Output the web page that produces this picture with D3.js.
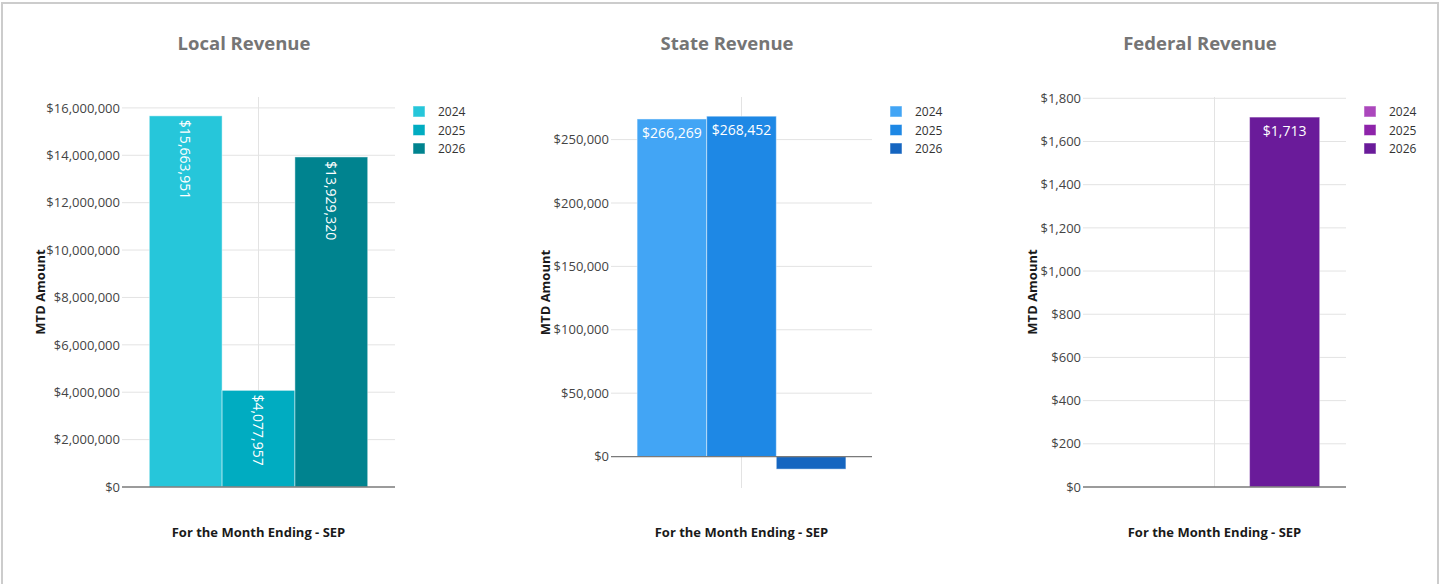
<!DOCTYPE html>
<html>
<head>
<meta charset="utf-8">
<script src="https://cdn.jsdelivr.net/npm/d3@7"></script>
<style>
  html, body { margin: 0; padding: 0; background: #fff; }
  svg { display: block; font-family: "Open Sans", sans-serif; }
</style>
</head>
<body>
<svg id="chart" width="1445" height="584"></svg>
<script>
// ---------------- DATA ----------------
const years = ["2024", "2025", "2026"];
const category = ["SEP"];
const xAxisTitle = "For the Month Ending - SEP";
const yAxisTitle = "MTD Amount";

const panelTitles = ["Local Revenue", "State Revenue", "Federal Revenue"];

const localValues   = [15663951, 4077957, 13929320];
const stateValues   = [266269, 268452, -9900];
const federalValues = [0, 0, 1713];

const localTicks   = [0, 2000000, 4000000, 6000000, 8000000, 10000000, 12000000, 14000000, 16000000];
const stateTicks   = [0, 50000, 100000, 150000, 200000, 250000];
const federalTicks = [0, 200, 400, 600, 800, 1000, 1200, 1400, 1600, 1800];

const localDomain   = [0, 16460000];
const stateDomain   = [-24800, 283600];
const federalDomain = [0, 1806];

const localColors   = ["#26C6DA", "#00ACC1", "#00838F"];
const stateColors   = ["#42A5F5", "#1E88E5", "#1565C0"];
const federalColors = ["#AB47BC", "#8E24AA", "#6A1B9A"];

// ---------------- LAYOUT ----------------
const panels = [
  { title: panelTitles[0], values: localValues, ticks: localTicks, domain: localDomain, colors: localColors,
    titleX: 244, plotL: 122, plotR: 395, plotT: 97, plotB: 487, yTitleX: 40 },
  { title: panelTitles[1], values: stateValues, ticks: stateTicks, domain: stateDomain, colors: stateColors,
    titleX: 727, plotL: 611, plotR: 872, plotT: 97, plotB: 488, yTitleX: 545 },
  { title: panelTitles[2], values: federalValues, ticks: federalTicks, domain: federalDomain, colors: federalColors,
    titleX: 1200, plotL: 1083, plotR: 1346, plotT: 97, plotB: 487, yTitleX: 1032 }
];

const svg = d3.select("#chart");
const fmt = v => (v < 0 ? "-$" : "$") + d3.format(",")(Math.abs(v));

// outer border
svg.append("rect")
  .attr("x", 2).attr("y", 3).attr("width", 1436).attr("height", 700)
  .attr("fill", "none").attr("stroke", "#cccccc").attr("stroke-width", 2);

panels.forEach(p => {
  const g = svg.append("g");

  const y = d3.scaleLinear().domain(p.domain).range([p.plotB, p.plotT]);
  const x0 = d3.scaleBand().domain(category).range([p.plotL, p.plotR])
    .paddingInner(0).paddingOuter(0.125);
  const x1 = d3.scaleBand().domain(years).range([0, x0.bandwidth()]).padding(0);

  // title
  g.append("text")
    .attr("x", p.titleX).attr("y", 50)
    .attr("text-anchor", "middle")
    .attr("font-size", 18.5).attr("font-weight", 700)
    .attr("fill", "#757575")
    .text(p.title);

  // horizontal gridlines
  g.append("g").selectAll("line")
    .data(p.ticks.filter(t => t !== 0))
    .join("line")
    .attr("x1", p.plotL).attr("x2", p.plotR)
    .attr("y1", d => y(d)).attr("y2", d => y(d))
    .attr("stroke", "#e3e3e3").attr("stroke-width", 1);

  // vertical gridline at category centre
  g.append("g").selectAll("line")
    .data(category)
    .join("line")
    .attr("x1", d => x0(d) + x0.bandwidth() / 2)
    .attr("x2", d => x0(d) + x0.bandwidth() / 2)
    .attr("y1", p.plotT).attr("y2", p.plotB)
    .attr("stroke", "#e3e3e3").attr("stroke-width", 1);

  // y axis labels
  const yAxis = d3.axisLeft(y).tickValues(p.ticks).tickFormat(fmt).tickSize(0).tickPadding(2);
  const ya = g.append("g").attr("transform", `translate(${p.plotL},0)`).call(yAxis);
  ya.select(".domain").remove();
  ya.selectAll("text")
    .attr("font-family", "'Open Sans', sans-serif")
    .attr("font-size", 13).attr("fill", "#444");

  // bars
  const bars = g.append("g").selectAll("g")
    .data(category)
    .join("g")
    .attr("transform", d => `translate(${x0(d)},0)`);

  const items = years.map((yr, i) => ({ year: yr, value: p.values[i], color: p.colors[i] }))
    .filter(d => d.value !== 0);

  bars.selectAll("rect")
    .data(items)
    .join("rect")
    .attr("x", d => x1(d.year))
    .attr("width", x1.bandwidth())
    .attr("y", d => y(Math.max(0, d.value)))
    .attr("height", d => Math.abs(y(d.value) - y(0)))
    .attr("fill", d => d.color)
    .attr("stroke", "rgba(255,255,255,0.45)").attr("stroke-width", 1);

  // value labels
  const labels = bars.selectAll("text.val")
    .data(items.filter(d => d.value > 0))
    .join("text")
    .attr("class", "val")
    .attr("font-size", 14).attr("fill", "#ffffff")
    .text(d => fmt(d.value));

  labels.each(function(d) {
    const t = d3.select(this);
    const w = this.getComputedTextLength();
    const cx = x1(d.year) + x1.bandwidth() / 2;
    const top = y(d.value);
    if (w > x1.bandwidth() - 6) {
      t.attr("text-anchor", "start")
       .attr("dominant-baseline", "central")
       .attr("transform", `translate(${cx},${top + 4}) rotate(90)`);
    } else {
      t.attr("text-anchor", "middle")
       .attr("x", cx).attr("y", top + 19);
    }
  });

  // baseline at zero
  g.append("line")
    .attr("x1", p.plotL).attr("x2", p.plotR)
    .attr("y1", y(0)).attr("y2", y(0))
    .attr("stroke", "#7a7a7a").attr("stroke-width", 1.3);

  // y axis title
  g.append("text")
    .attr("transform", `translate(${p.yTitleX},${(p.plotT + p.plotB) / 2}) rotate(-90)`)
    .attr("text-anchor", "middle").attr("dominant-baseline", "central")
    .attr("font-size", 13).attr("font-weight", 700).attr("fill", "#1a1a1a")
    .text(yAxisTitle);

  // x axis title
  g.append("text")
    .attr("x", (p.plotL + p.plotR) / 2).attr("y", 537)
    .attr("text-anchor", "middle")
    .attr("font-size", 13).attr("font-weight", 700).attr("fill", "#1a1a1a")
    .text(xAxisTitle);

  // legend
  const lg = g.append("g").attr("transform", `translate(${p.plotR + 18},106)`);
  const li = lg.selectAll("g").data(years).join("g")
    .attr("transform", (d, i) => `translate(0,${i * 18.5})`);
  li.append("rect")
    .attr("width", 12).attr("height", 11)
    .attr("fill", (d, i) => p.colors[i])
    .attr("stroke", "rgba(255,255,255,0.5)").attr("stroke-width", 1);
  li.append("text")
    .attr("x", 25).attr("y", 5.5)
    .attr("dominant-baseline", "central")
    .attr("font-size", 12).attr("fill", "#333")
    .text(d => d);
});
</script>
</body>
</html>
